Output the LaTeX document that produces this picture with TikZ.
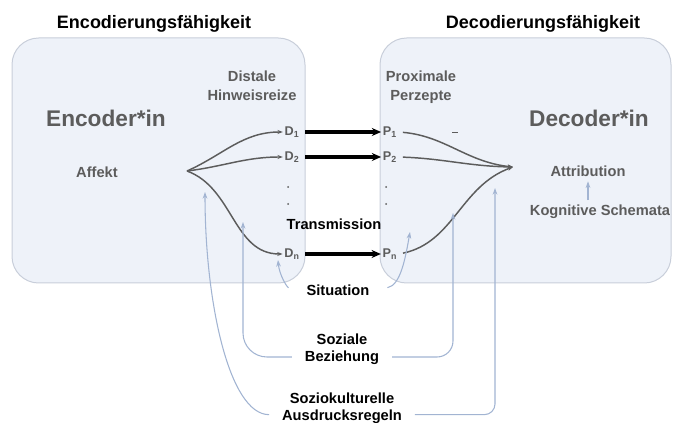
\documentclass[tikz,border=0pt]{standalone}
\usepackage{fontspec}
\setmainfont{Liberation Sans}
\usetikzlibrary{arrows.meta}

\definecolor{boxfill}{RGB}{238,242,249}
\definecolor{boxline}{RGB}{200,206,218}
\definecolor{lblgray}{RGB}{92,92,92}
\definecolor{infblue}{RGB}{162,180,210}

\tikzset{every picture/.style={line width=0.75pt}}
\tikzset{
  title/.style={font=\bfseries\fontsize{13.5}{15}\selectfont},
  bigname/.style={font=\bfseries\fontsize{17}{19}\selectfont, text=lblgray},
  lbl/.style={font=\bfseries\fontsize{11}{14}\selectfont, text=lblgray, align=center},
  cue/.style={font=\bfseries\fontsize{9.5}{10}\selectfont, text=lblgray, inner sep=1pt},
  bot/.style={font=\bfseries\fontsize{11}{13}\selectfont, align=center},
  encline/.style={draw=lblgray, line width=1.1pt, -{Stealth[length=4pt,width=3pt]}},
  trans/.style={draw=black, line width=2.3pt, -{Stealth[length=7pt,width=6pt]}},
  infl/.style={draw=infblue, line width=0.8pt, -{Stealth[length=5pt,width=3.5pt]}}
}

\begin{document}
\begin{tikzpicture}[x=0.75pt,y=0.75pt,yscale=-1,xscale=1]
\useasboundingbox (0,0) rectangle (673,423);

%Shape: Rounded Rectangle [encoder]
\draw [draw=boxline, fill=boxfill, rounded corners=20pt] (12,38) rectangle (305,283) ;
%Shape: Rounded Rectangle [decoder]
\draw [draw=boxline, fill=boxfill, rounded corners=20pt] (380,38) rectangle (671,283) ;

% Text Node
\draw (154,24) node [title] (enctitle) {Encodierungsfähigkeit};
% Text Node
\draw (543,24) node [title] (dectitle) {Decodierungsfähigkeit};
% Text Node
\draw (106,118) node [bigname] (encoder) {Encoder*in};
% Text Node
\draw (589,118) node [bigname] (decoder) {Decoder*in};
% Text Node
\draw (97,172) node [lbl] (affekt) {Affekt};
% Text Node
\draw (252,86) node [lbl] (distal) {Distale\\Hinweisreize};
% Text Node
\draw (421,87) node [lbl] (proximal) {Proximale\\Perzepte};
% Text Node
\draw (588,171) node [lbl] (attr) {Attribution};
% Text Node
\draw (600,212) node [lbl] (kog) {Kognitive Schemata};
% Text Node
\draw (334,224) node [bot] (transm) {Transmission};

% Cue Nodes
\draw (292,132) node [cue] (D1) {D\textsubscript{1}};
\draw (292,157) node [cue] (D2) {D\textsubscript{2}};
\draw (292,254) node [cue] (Dn) {D\textsubscript{n}};
\draw (390,132) node [cue] (P1) {P\textsubscript{1}};
\draw (390,157) node [cue] (P2) {P\textsubscript{2}};
\draw (390,254) node [cue] (Pn) {P\textsubscript{n}};
\fill [lblgray] (288,187) circle (1) (288,204) circle (1) (386,187) circle (1) (386,204) circle (1);
\draw [lblgray] (452,133) -- (458,133) ;

% Bottom Nodes
\draw (338,290) node [bot] (sit) {Situation};
\draw (342,349) node [bot] (soz) {Soziale\\Beziehung};
\draw (342,408) node [bot] (kul) {Soziokulturelle\\Ausdrucksregeln};

\coordinate (aff) at (187,171);
\coordinate (conv) at (513,167);
\coordinate (sitL) at (278,260);
\coordinate (sitR) at (410,232);
\coordinate (sozL) at (243,222);
\coordinate (sozR) at (453,213);
\coordinate (kulL) at (205,192);
\coordinate (kulR) at (495,188);

%Curve Lines [encoding] (angles mirrored by yscale=-1)
\draw [encline] (aff) to [out=-24,in=180] (D1.west) ;
\draw [encline] (aff) to [out=-7,in=180] (D2.west) ;
\draw [encline] (aff) to [out=20,in=180] (Dn.west) ;

%Straight Lines [transmission]
\draw [trans, shorten <=3pt] (D1.east) -- (P1.west) ;
\draw [trans, shorten <=3pt] (D2.east) -- (P2.west) ;
\draw [trans, shorten <=3pt] (Dn.east) -- (Pn.west) ;

%Curve Lines [decoding]
\draw [encline, shorten <=3pt] (P1.east) to [out=5,in=186] (conv) ;
\draw [encline, shorten <=3pt] (P2.east) to [out=2,in=181] (conv) ;
\draw [encline, shorten <=3pt] (Pn.east) to [out=-12,in=160] (conv) ;

%Straight Lines [schemata]
\draw [infl] (kog.north -| attr) -- (attr.south) ;

%Curve Lines [situation]
\draw [infl, shorten <=10pt] (sit.west) to [out=190,in=85] (sitL) ;
\draw [infl, shorten <=10pt] (sit.east) to [out=-10,in=100] (sitR) ;
%Curve Lines [soziale beziehung]
\draw [infl, rounded corners=18pt, shorten <=6pt] ([yshift=6pt]soz.west) -| (sozL) ;
\draw [infl, rounded corners=12pt, shorten <=6pt] ([yshift=6pt]soz.east) -| (sozR) ;
%Curve Lines [soziokulturelle ausdrucksregeln]
\draw [infl, shorten <=6pt] ([yshift=5pt]kul.west) .. controls +(-48,0) and +(0,110) .. (kulL) ;
\draw [infl, rounded corners=8pt, shorten <=6pt] ([yshift=5pt]kul.east) -| (kulR) ;

\end{tikzpicture}
\end{document}
